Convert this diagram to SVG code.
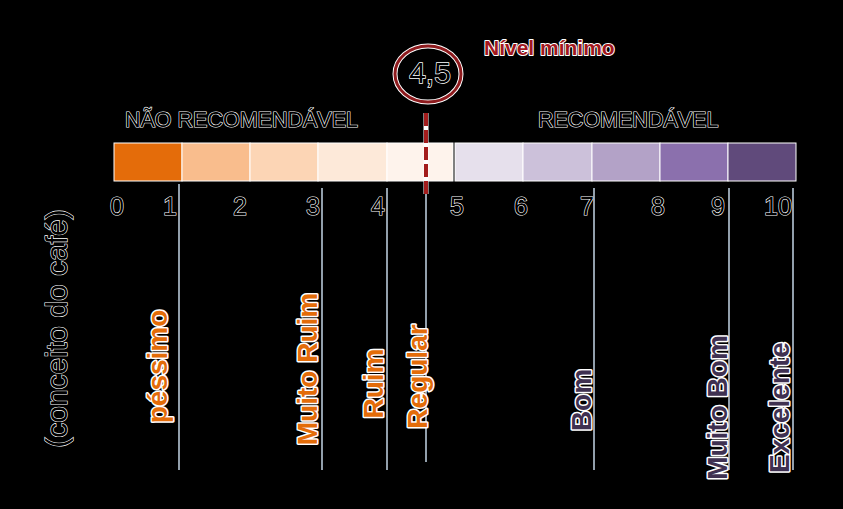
<svg xmlns="http://www.w3.org/2000/svg" width="843" height="509" viewBox="0 0 843 509">
<style>
.num{font-family:"Liberation Sans",Arial,sans-serif;font-size:25px;fill:#000;stroke:#fff;stroke-width:1.2px;paint-order:stroke fill;text-anchor:middle}
.hdr{font-family:"Liberation Sans",Arial,sans-serif;font-size:21.5px;fill:#000;stroke:#fff;stroke-width:1.2px;paint-order:stroke fill}
.lbl{font-family:"Liberation Sans",Arial,sans-serif;font-size:28px;font-weight:bold;stroke:#fff;stroke-width:3px;stroke-linejoin:round;paint-order:stroke fill;text-anchor:middle}
.or{fill:#E36C09}
.pu{fill:#3F3151}
.seg{stroke:#fff;stroke-width:1}
.vl{stroke:#B8C8D8;stroke-width:1.6;fill:none}
</style>
<rect x="0" y="0" width="843" height="509" fill="#000"/>
<g id="scale-bar">
<rect class="seg" x="114" y="143" width="68" height="38" fill="#E46C0A"/>
<rect class="seg" x="182" y="143" width="68" height="38" fill="#F9BD8D"/>
<rect class="seg" x="250" y="143" width="68" height="38" fill="#FCD5B5"/>
<rect class="seg" x="318" y="143" width="69" height="38" fill="#FDE9D9"/>
<rect class="seg" x="387" y="143" width="66" height="38" fill="#FEF3EC"/>
<rect class="seg" x="455" y="143" width="68" height="38" fill="#E6E0EC"/>
<rect class="seg" x="523" y="143" width="69" height="38" fill="#CCC1DA"/>
<rect class="seg" x="592" y="143" width="68" height="38" fill="#B3A2C7"/>
<rect class="seg" x="660" y="143" width="68" height="38" fill="#8B70AD"/>
<rect class="seg" x="728" y="143" width="68" height="38" fill="#604A7B"/>
</g>
<g id="numbers">
<text class="num" x="117" y="215">0</text>
<text class="num" x="170" y="215">1</text>
<text class="num" x="240" y="215">2</text>
<text class="num" x="313" y="215">3</text>
<text class="num" x="378" y="215">4</text>
<text class="num" x="457" y="215">5</text>
<text class="num" x="521" y="215">6</text>
<text class="num" x="587" y="215">7</text>
<text class="num" x="658" y="215">8</text>
<text class="num" x="718" y="215">9</text>
<text class="num" x="778" y="215">10</text>
</g>
<g id="connectors">
<line class="vl" x1="179" y1="184" x2="179" y2="470"/>
<line class="vl" x1="322" y1="188" x2="322" y2="470"/>
<line class="vl" x1="387" y1="188" x2="387" y2="470"/>
<line class="vl" x1="426" y1="192" x2="426" y2="462"/>
<line class="vl" x1="594" y1="188" x2="594" y2="470"/>
<line class="vl" x1="729" y1="188" x2="729" y2="470"/>
<line class="vl" x1="793" y1="188" x2="793" y2="470"/>
<line x1="426" y1="113" x2="426" y2="194" stroke="#fff" stroke-width="5"/>
<line x1="426" y1="113" x2="426" y2="194" stroke="#A31D1D" stroke-width="4" stroke-dasharray="13 4"/>
</g>
<g id="headers">
<text class="hdr" x="125" y="127">NÃO RECOMENDÁVEL</text>
<text class="hdr" x="538" y="127">RECOMENDÁVEL</text>
</g>
<g id="minimum">
<ellipse cx="428" cy="74" rx="33" ry="28" fill="none" stroke="#fff" stroke-width="5"/>
<ellipse cx="428" cy="74" rx="33" ry="28" fill="none" stroke="#8E1B1E" stroke-width="3"/>
<text x="430" y="83" font-family="Liberation Sans, Arial, sans-serif" font-size="30" fill="#000" stroke="#fff" stroke-width="1.4" paint-order="stroke fill" text-anchor="middle">4,5</text>
<text x="484" y="55" font-family="Liberation Sans, Arial, sans-serif" font-size="21" font-weight="bold" fill="#A3171D" stroke="#fff" stroke-width="2" stroke-linejoin="round" paint-order="stroke fill">Nível mínimo</text>
</g>
<g id="axis-title">
<text transform="translate(67,328.5) rotate(-90)" x="0" y="0" font-family="Liberation Sans, Arial, sans-serif" font-size="30" fill="#000" stroke="#fff" stroke-width="1.2" paint-order="stroke fill" text-anchor="middle">(conceito do café)</text>
</g>
<g id="labels">
<text class="lbl or" transform="translate(167,366.5) rotate(-90)">péssimo</text>
<text class="lbl or" transform="translate(317,369) rotate(-90)">Muito Ruim</text>
<text class="lbl or" transform="translate(383,383.5) rotate(-90)">Ruim</text>
<text class="lbl or" transform="translate(427,376.5) rotate(-90)">Regular</text>
<text class="lbl pu" transform="translate(591,400) rotate(-90)">Bom</text>
<text class="lbl pu" transform="translate(727,407.5) rotate(-90)">Muito Bom</text>
<text class="lbl pu" transform="translate(789,407.5) rotate(-90)">Excelente</text>
</g>
</svg>
